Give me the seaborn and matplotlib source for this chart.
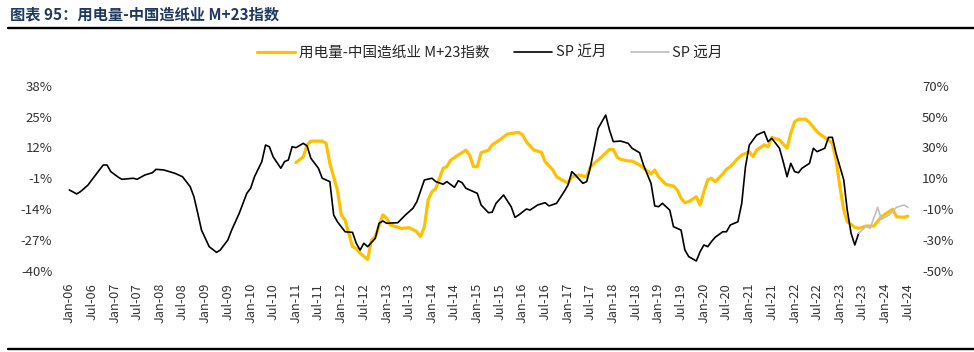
import matplotlib
matplotlib.use('Agg')
import matplotlib.pyplot as plt
from matplotlib.lines import Line2D
import seaborn as sns
import pandas as pd

sns.set_theme(style='white')
plt.rcParams['font.family'] = ['Noto Sans CJK SC', 'DejaVu Sans']
plt.rcParams['axes.unicode_minus'] = False

# ---------------- data ----------------
title = "图表 95：用电量-中国造纸业 M+23指数"
series_names = ["用电量-中国造纸业 M+23指数", "SP 近月", "SP 远月"]

index_dates = ["2011-01", "2011-03", "2011-04", "2011-05", "2011-08", "2011-09", "2011-10", "2011-12",
               "2012-01", "2012-02", "2012-04", "2012-05", "2012-06", "2012-08", "2012-09", "2012-10",
               "2012-12", "2013-01", "2013-02", "2013-05", "2013-07", "2013-09", "2013-10", "2013-11",
               "2013-12", "2014-01", "2014-02", "2014-04", "2014-05", "2014-06", "2014-08", "2014-10",
               "2014-11", "2014-12", "2015-01", "2015-02", "2015-04", "2015-05", "2015-07", "2015-09",
               "2015-12", "2016-01", "2016-02", "2016-04", "2016-06", "2016-07", "2016-09", "2016-10",
               "2017-01", "2017-02", "2017-04", "2017-06", "2017-07", "2017-10", "2017-12", "2018-01",
               "2018-02", "2018-03", "2018-05", "2018-06", "2018-08", "2018-11", "2018-12", "2019-01",
               "2019-03", "2019-05", "2019-06", "2019-07", "2019-08", "2019-09", "2019-11", "2019-12",
               "2020-01", "2020-02", "2020-03", "2020-04", "2020-06", "2020-07", "2020-08", "2020-10",
               "2020-11", "2021-01", "2021-02", "2021-03", "2021-05", "2021-06", "2021-07", "2021-09",
               "2021-11", "2021-12", "2022-01", "2022-02", "2022-04", "2022-05", "2022-07", "2022-08",
               "2022-10", "2022-11", "2022-12", "2023-01", "2023-02", "2023-03", "2023-05", "2023-06",
               "2023-08", "2023-10", "2023-12", "2024-01", "2024-03", "2024-04", "2024-06", "2024-07"]
index_values = [5.6, 8.1, 13.1, 14.7, 14.7, 13.8, 5.3, -6.0,
                -16.5, -18.7, -29.9, -30.7, -32.7, -35.3, -27.1, -25.7,
                -16.5, -17.9, -20.8, -22.2, -21.9, -23.6, -25.7, -21.5,
                -10.2, -6.7, -5.3, 3.2, 3.9, 6.7, 8.8, 10.9,
                8.8, 3.9, 3.9, 9.8, 10.9, 13.1, 15.2, 17.7,
                18.4, 17.3, 14.4, 10.9, 10.0, 6.0, 2.5, -0.4,
                -3.1, -0.4, 0.4, -0.4, 3.9, 8.1, 11.2, 11.2,
                7.9, 7.0, 6.3, 6.3, 4.6, 0.8, 2.5, -0.4,
                -3.6, -4.3, -6.0, -9.5, -11.3, -10.9, -8.8, -12.3,
                -6.7, -1.7, -1.0, -2.5, 0.8, 2.8, 3.9, 7.4,
                8.8, 10.2, 8.1, 10.9, 13.1, 12.3, 16.3, 15.2,
                11.7, 18.0, 22.9, 23.9, 24.0, 22.5, 18.7, 17.3,
                15.2, 13.8, 6.7, -4.6, -14.4, -19.4, -21.7, -22.2,
                -21.2, -21.2, -17.3, -16.2, -14.1, -17.3, -17.5, -17.0]

near_dates = ["2006-01", "2006-03", "2006-04", "2006-06", "2006-07", "2006-09", "2006-10", "2006-11",
              "2006-12", "2007-02", "2007-03", "2007-06", "2007-07", "2007-09", "2007-11", "2007-12",
              "2008-02", "2008-05", "2008-07", "2008-09", "2008-10", "2008-11", "2008-12", "2009-02",
              "2009-04", "2009-05", "2009-07", "2009-08", "2009-10", "2009-12", "2010-01", "2010-02",
              "2010-04", "2010-05", "2010-06", "2010-07", "2010-09", "2010-10", "2010-11", "2010-12",
              "2011-01", "2011-03", "2011-04", "2011-05", "2011-07", "2011-08", "2011-10", "2011-11",
              "2011-12", "2012-02", "2012-04", "2012-05", "2012-06", "2012-07", "2012-08", "2012-10",
              "2012-11", "2012-12", "2013-01", "2013-04", "2013-06", "2013-08", "2013-09", "2013-11",
              "2014-01", "2014-02", "2014-04", "2014-05", "2014-07", "2014-08", "2014-09", "2014-10",
              "2015-01", "2015-02", "2015-04", "2015-05", "2015-06", "2015-08", "2015-10", "2015-11",
              "2015-12", "2016-02", "2016-03", "2016-05", "2016-07", "2016-08", "2016-10", "2016-12",
              "2017-01", "2017-02", "2017-03", "2017-05", "2017-06", "2017-07", "2017-09", "2017-11",
              "2017-12", "2018-01", "2018-03", "2018-05", "2018-06", "2018-08", "2018-09", "2018-11",
              "2018-12", "2019-01", "2019-02", "2019-04", "2019-05", "2019-07", "2019-08", "2019-09",
              "2019-11", "2019-12", "2020-01", "2020-02", "2020-03", "2020-04", "2020-06", "2020-07",
              "2020-08", "2020-10", "2020-11", "2020-12", "2021-01", "2021-03", "2021-05", "2021-06",
              "2021-07", "2021-09", "2021-10", "2021-11", "2021-12", "2022-01", "2022-02", "2022-03",
              "2022-05", "2022-06", "2022-07", "2022-09", "2022-10", "2022-11", "2022-12", "2023-02",
              "2023-03", "2023-04", "2023-05", "2023-06"]
near_values = [2.4, -0.2, 1.3, 5.6, 8.9, 15.4, 18.6, 18.6,
               14.3, 10.6, 9.3, 10.0, 9.3, 12.1, 13.6, 15.8,
               15.4, 13.2, 11.0, 4.5, -2.0, -12.8, -23.7, -34.5,
               -38.2, -36.7, -30.2, -23.7, -12.8, 0.2, 3.5, 11.0,
               20.8, 31.6, 30.5, 24.0, 16.5, 20.8, 21.9, 30.5,
               29.9, 32.7, 31.0, 23.0, 16.5, 10.0, 7.8, -13.9,
               -18.3, -24.8, -25.2, -32.3, -36.7, -32.3, -34.5, -29.1,
               -19.3, -17.8, -19.3, -18.9, -13.9, -9.5, -5.3, 8.9,
               10.0, 7.8, 6.1, 7.8, 4.1, 8.4, 7.1, 3.5,
               0.2, -7.4, -12.4, -12.1, -6.3, -0.9, -8.5, -15.4,
               -13.9, -10.0, -10.7, -7.4, -5.9, -8.0, -6.3, 1.3,
               5.6, 14.3, 12.1, 6.7, 7.8, 17.5, 42.5, 51.1,
               41.4, 33.8, 34.2, 32.7, 29.5, 26.6, 18.6, 6.7,
               -8.0, -8.5, -6.3, -10.7, -21.5, -23.7, -36.7, -41.0,
               -43.8, -37.8, -33.4, -34.5, -31.3, -28.4, -24.8, -24.8,
               -20.4, -18.3, -6.3, 17.5, 31.6, 38.1, 40.3, 33.8,
               36.0, 29.5, 20.8, 11.0, 19.7, 14.3, 13.6, 16.5,
               19.7, 29.5, 27.3, 29.5, 36.6, 36.6, 26.2, 8.9,
               -10.7, -25.8, -33.4, -25.8]

far_dates = ["2023-06", "2023-08", "2023-09", "2023-11", "2023-12", "2024-02", "2024-04", "2024-06", "2024-07"]
far_values = [-25.8, -21.1, -22.6, -8.9, -16.7, -13.9, -8.9, -7.4, -8.9]

left_ticks = [-40, -27, -14, -1, 12, 25, 38]
right_ticks = [-50, -30, -10, 10, 30, 50, 70]
x_tick_dates = pd.date_range("2006-01-01", "2024-07-01", freq="6MS")

# ---------------- figure ----------------
W, H = 974, 352
fig = plt.figure(figsize=(W / 100, H / 100), dpi=100)
ax = fig.add_axes([62 / W, (H - 270.5) / H, 853 / W, 184.5 / H])
ax2 = ax.twinx()

df_idx = pd.DataFrame({"date": pd.to_datetime(index_dates), "value": index_values})
df_near = pd.DataFrame({"date": pd.to_datetime(near_dates), "value": near_values})
df_far = pd.DataFrame({"date": pd.to_datetime(far_dates), "value": far_values})

sns.lineplot(data=df_idx, x="date", y="value", ax=ax, color="#FFC000", linewidth=2.3)
sns.lineplot(data=df_near, x="date", y="value", ax=ax2, color="#000000", linewidth=1.2)
sns.lineplot(data=df_far, x="date", y="value", ax=ax2, color="#BFBFBF", linewidth=1.2)

xmin, xmax = pd.Timestamp("2005-11-03"), pd.Timestamp("2024-08-28")
for a in (ax, ax2):
    a.set_xlim(xmin, xmax)
    a.set_xlabel("")
    a.set_ylabel("")
    a.grid(False)
    for s in a.spines.values():
        s.set_visible(False)

ax.set_ylim(-40, 38)
ax.set_yticks(left_ticks)
ax.set_yticklabels([f"{v}%" for v in left_ticks])
ax2.set_ylim(-50, 70)
ax2.set_yticks(right_ticks)
ax2.set_yticklabels([f"{v}%" for v in right_ticks])

ax.set_xticks(x_tick_dates)
ax.set_xticklabels([d.strftime("%b-%y") for d in x_tick_dates], rotation=90)

ax.tick_params(axis="y", length=0, pad=7, labelsize=9.5, labelcolor="#333333")
ax2.tick_params(axis="y", length=0, pad=5, labelsize=9.5, labelcolor="#333333")
ax.tick_params(axis="x", length=0, pad=9, labelsize=9.2, labelcolor="#333333")

handles = [Line2D([], [], color="#FFC000", lw=2.3),
           Line2D([], [], color="#000000", lw=1.2),
           Line2D([], [], color="#BFBFBF", lw=1.2)]
fig.legend(handles, series_names, loc="center", bbox_to_anchor=(490 / W, 1 - 53 / H),
           ncol=3, frameon=False, fontsize=10.5, handlelength=2.6, handletextpad=0.25,
           columnspacing=1.7)

fig.text(10 / W, 1 - 14 / H, title, fontsize=11, fontweight="bold", color="#1F3A60",
         ha="left", va="center")
fig.add_artist(Line2D([8 / W, 1], [1 - 27.7 / H] * 2, color="black", lw=1.7))
fig.add_artist(Line2D([8 / W, 1], [1 - 349 / H] * 2, color="black", lw=1.7))

fig.savefig("out.png", dpi=100)
